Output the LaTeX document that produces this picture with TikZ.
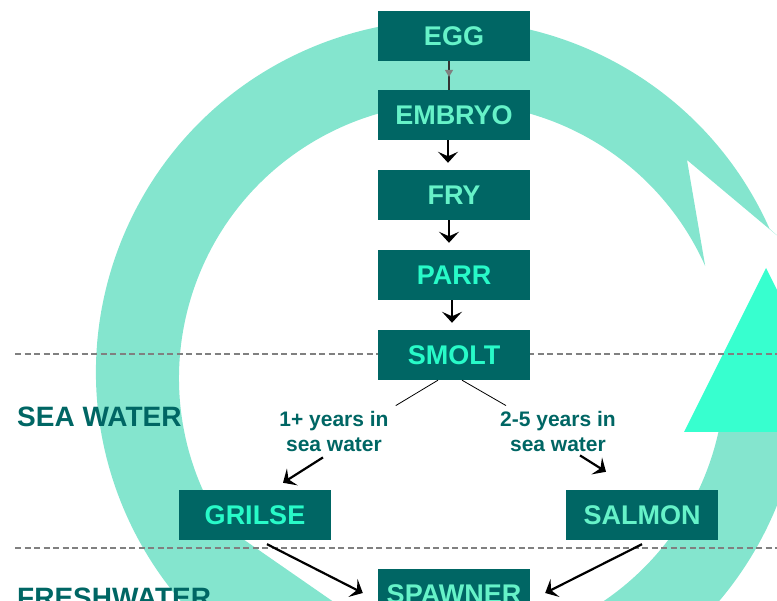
\documentclass[tikz,border=0pt]{standalone}
\usepackage{fontspec}
\setmainfont{Liberation Sans}
\usepackage{tikz}
\usetikzlibrary{arrows.meta,decorations.markings}

\definecolor{boxteal}{RGB}{0,102,100}
\definecolor{ringteal}{RGB}{132,229,206}
\definecolor{headaqua}{RGB}{55,255,207}
\definecolor{palefont}{RGB}{102,242,200}
\definecolor{brightfont}{RGB}{40,250,200}

\begin{document}
\begin{tikzpicture}[x=1pt,y=1pt]
\tikzstyle{stage}=[fill=boxteal, minimum width=152pt, minimum height=50pt, inner sep=0pt, text=palefont, font=\fontsize{27}{30}\selectfont\bfseries]
\tikzstyle{note}=[text=boxteal, align=center, inner sep=0pt, font=\fontsize{21}{25}\selectfont\bfseries]
\tikzstyle{zone}=[text=boxteal, inner sep=0pt, font=\fontsize{28}{30}\selectfont\bfseries]
\tikzstyle{growarrow}=[black, line width=2.2pt, -{Stealth[length=11pt,width=20pt,inset=4.5pt]}]
\tikzstyle{splitline}=[black, line width=0.8pt]
\tikzstyle{zoneline}=[gray, line width=1.8pt, dash pattern=on 6pt off 3.5pt]
\useasboundingbox (0,0) rectangle (777,601);
\clip (0,0) rectangle (777,601);
% life cycle ring
\begin{scope}[shift={(448,229)}]
\fill[ringteal] (257.2,105.9) -- (239,212) -- (22:358) -- (24:352) arc[start angle=24, end angle=250, radius=352]
  -- (20,-330) -- (-48,-276) -- (-227.2,-151.7) arc[start angle=212, end angle=24, radius=275] -- cycle; %notched end up right
\fill[ringteal] (-1.6:277) arc[start angle=-1.6, end angle=-75, radius=277]
  -- (-75:355) arc[start angle=-75, end angle=-1.6, radius=355] -- cycle;
\end{scope}
\fill[headaqua] (684,169) -- (766,333) -- (848,169) -- cycle; %head pointing up
\draw[zoneline] (15,247) -- (777,247);
\draw[zoneline] (15,53) -- (777,53);
\node[zone, anchor=west] (seawater) at (17,184) {SEA WATER};
\node[zone, anchor=base west] (freshwater) at (17,-7) {FRESHWATER};
\node[stage] (egg) at (454,565) {EGG};
\node[stage] (embryo) at (454,486) {EMBRYO};
\node[stage] (fry) at (454,406) {FRY};
\node[stage, text=brightfont] (parr) at (454,326) {PARR};
\node[stage, text=brightfont] (smolt) at (454,246) {SMOLT};
\node[stage, text=brightfont] (grilse) at (255,86) {GRILSE};
\node[stage] (salmon) at (642,86) {SALMON};
\node[stage] (spawner) at (454,7) {SPAWNER};
\node[note] (yrsone) at (334,169) {1+ years in\\sea water};
\node[note] (yrstwo) at (558,169) {2-5 years in\\sea water};
\draw[black!80, line width=1.3pt, postaction={decorate},
  decoration={markings, mark=at position 0.55 with {\arrow[gray]{Triangle[length=7pt,width=8pt]}}}]
  ([xshift=-5pt]egg.south) -- ([xshift=-5pt]embryo.north);
\draw[growarrow] ([xshift=-6pt]embryo.south) -- ([shift={(-6pt,7pt)}]fry.north);
\draw[growarrow] ([xshift=-5pt]fry.south) -- ([shift={(-5pt,7pt)}]parr.north);
\draw[growarrow] ([xshift=-2pt]parr.south) -- ([shift={(-2pt,7pt)}]smolt.north);
\draw[splitline] ([xshift=-16pt]smolt.south) -- ([shift={(7pt,6pt)}]yrsone.north east);
\draw[splitline] ([xshift=8pt]smolt.south) -- ([shift={(6pt,6pt)}]yrstwo.north west);
\draw[growarrow] ([shift={(-11pt,-5pt)}]yrsone.south) -- ([shift={(28pt,7pt)}]grilse.north);
\draw[growarrow] ([shift={(22pt,-3pt)}]yrstwo.south) -- ([shift={(-36pt,18pt)}]salmon.north);
\draw[growarrow] ([shift={(12pt,-4pt)}]grilse.south) -- ([shift={(-15pt,1pt)}]spawner.west);
\draw[growarrow] ([yshift=-4pt]salmon.south) -- ([shift={(15pt,1pt)}]spawner.east);
\end{tikzpicture}
\end{document}
